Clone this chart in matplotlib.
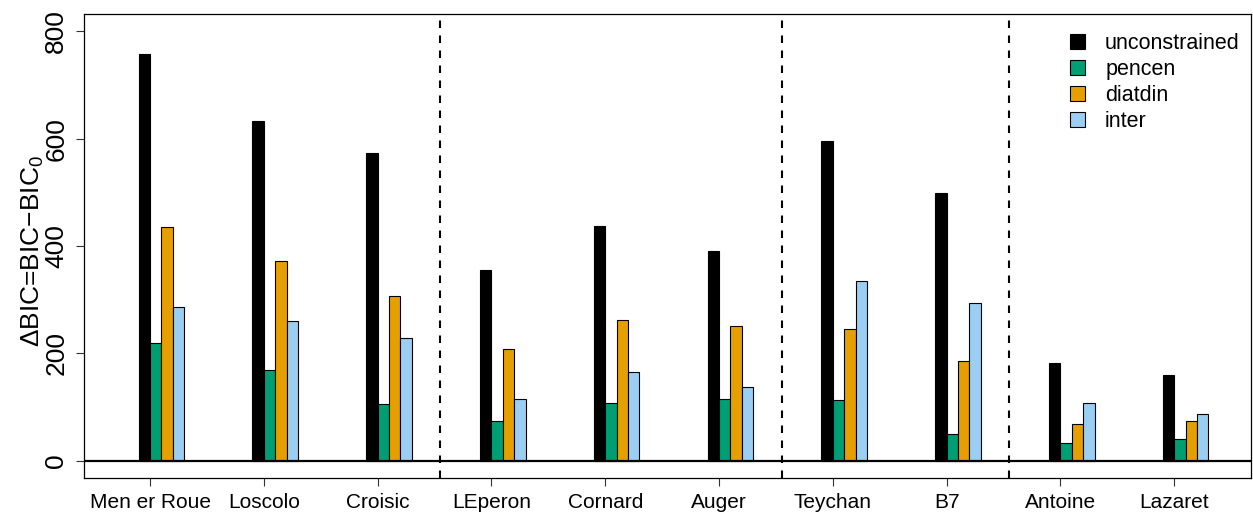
import matplotlib
matplotlib.use("Agg")
import matplotlib.pyplot as plt
from matplotlib.patches import Patch

plt.rcParams['font.family'] = ['Liberation Sans', 'DejaVu Sans']
plt.rcParams['mathtext.default'] = 'regular'

# Sites (x categories) and delta-BIC per model
sites = ["Men er Roue", "Loscolo", "Croisic", "LEperon", "Cornard",
         "Auger", "Teychan", "B7", "Antoine", "Lazaret"]
unconstrained = [758, 632, 573, 355, 437, 391, 596, 499, 182, 159]
pencen = [220, 169, 106, 75, 107, 115, 113, 50, 34, 41]
diatdin = [435, 373, 307, 209, 262, 251, 245, 185, 69, 74]
inter = [287, 260, 229, 115, 165, 137, 334, 293, 108, 87]

series = [("unconstrained", unconstrained, "#000000"),
          ("pencen", pencen, "#009E73"),
          ("diatdin", diatdin, "#E69F00"),
          ("inter", inter, "#9ACEF2")]

# regional separators, after Croisic, Auger and B7
separators_after = [2, 5, 7]

W, H = 1253, 512
fig = plt.figure(figsize=(W / 100, H / 100), dpi=100)
ax = fig.add_axes([84.3 / W, 1 - 478 / H, (1251 - 84.3) / W, (478 - 14) / H])

group_step = 10
for j, (name, vals, col) in enumerate(series):
    xs = [group_step * i + j for i in range(len(sites))]
    ax.bar(xs, vals, width=1, align='edge', color=col,
           edgecolor='black', linewidth=0.8, label=name, zorder=2)

ax.axhline(0, color='black', linewidth=1.6, zorder=3)
for k in separators_after:
    ax.axvline(group_step * (k + 1) - 3.5, color='black', linewidth=1.5,
               linestyle=(0, (3.6, 3.6)), zorder=1)

ax.set_xlim(-4.78, 97.75)
ax.set_ylim(-32, 832)

ax.set_xticks([group_step * i + 1 for i in range(len(sites))])
ax.set_xticklabels(sites, fontsize=15)
ax.set_yticks([0, 200, 400, 600, 800])
ax.set_yticklabels(["0", "200", "400", "600", "800"], fontsize=19)
for lab in ax.get_yticklabels():
    lab.set_rotation(90)
    lab.set_va('center')
ax.tick_params(axis='both', direction='out', length=5.5, width=0.8, color='#333333')
ax.tick_params(axis='x', pad=5)
ax.tick_params(axis='y', pad=6)
for sp in ax.spines.values():
    sp.set_linewidth(0.9)

fig.text(33 / W, 1 - 251 / H, "\u0394BIC=BIC\u2212BIC$_0$", rotation=90,
         ha='center', va='center', fontsize=19)

handles = [Patch(facecolor=c, edgecolor='black', linewidth=0.8, label=n)
           for n, _, c in series]
ax.legend(handles=handles, loc='upper left',
          bbox_to_anchor=(1070 / W, 1 - 33 / H), bbox_transform=fig.transFigure,
          frameon=False, fontsize=15.5, handlelength=0.68, handleheight=0.68,
          handletextpad=0.95, labelspacing=0.23, borderpad=0, borderaxespad=0)

fig.savefig("out.png", dpi=100)
